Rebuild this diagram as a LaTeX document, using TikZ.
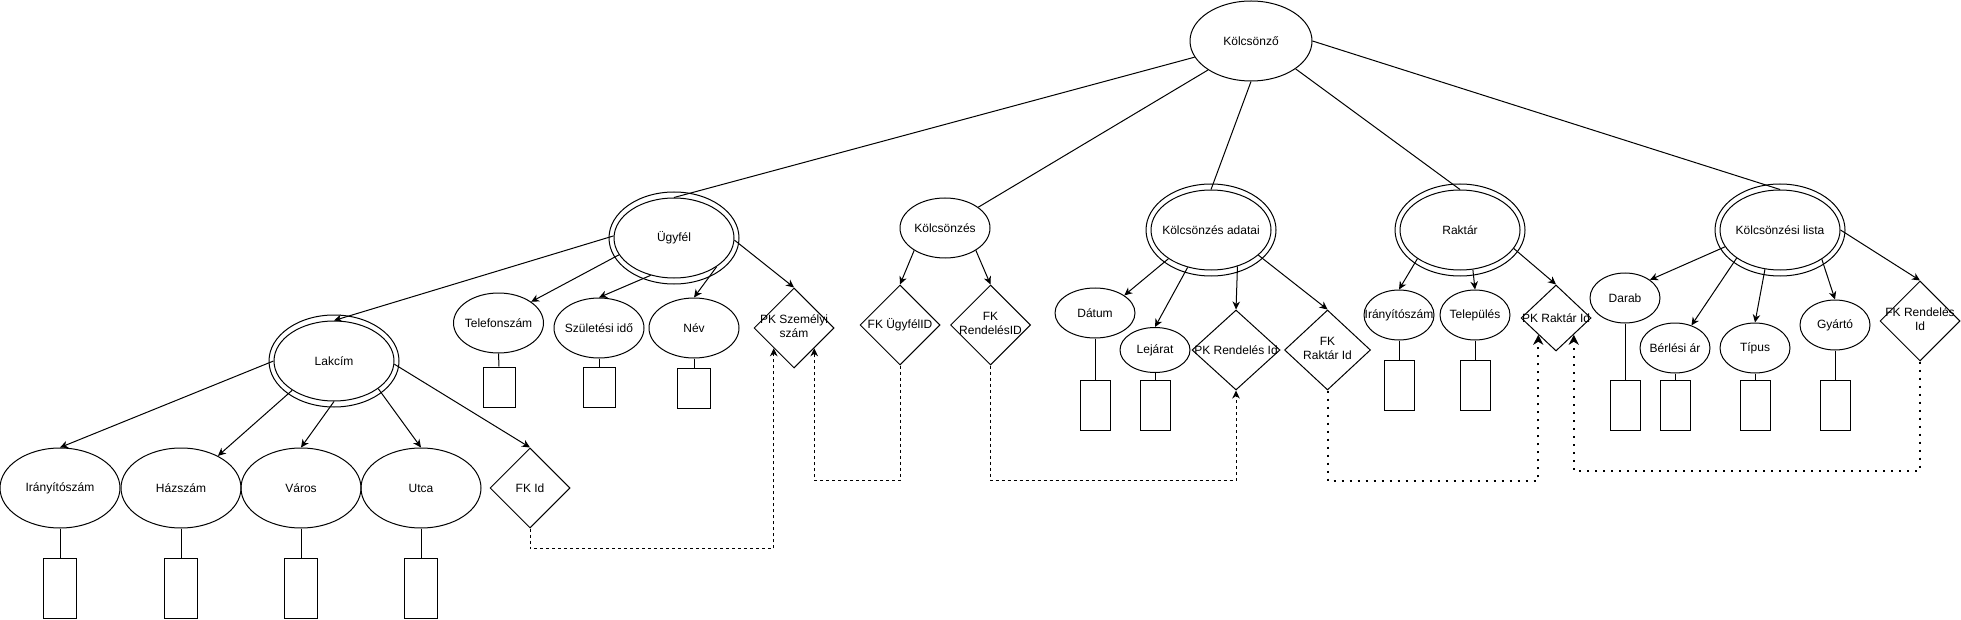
\documentclass[tikz,border=0pt]{standalone}
\usepackage{fontspec}
\setmainfont{Liberation Sans}
\usetikzlibrary{shapes.geometric,arrows.meta}
\newcommand\zt[1]{\makebox[0pt]{#1}}
\newcommand\ztt[2]{\makebox[0pt]{\begin{tabular}{@{}c@{}}#1\\#2\end{tabular}}}
\begin{document}
\begin{tikzpicture}[x=1pt,y=-1pt,line width=1pt,
  font=\fontsize{12}{14}\selectfont,
  ell/.style={ellipse,draw,inner sep=0pt},
  dbl/.style={ell,minimum width=130pt,minimum height=92pt},
  inn/.style={ell,minimum width=120pt,minimum height=80pt},
  dia/.style={diamond,draw,inner sep=0pt},
  box/.style={rectangle,draw,inner sep=0pt},
  arr/.style={-{Stealth[length=8pt,width=7.5pt,inset=2.5pt]}},
  fkd/.style={arr,dash pattern=on 3pt off 3pt},
  fkt/.style={-{Stealth[length=10pt,width=10pt,inset=3pt]},line width=2pt,dash pattern=on 2pt off 6pt}]
\useasboundingbox (0,0) rectangle (1961,620);

% root
\node[ell,minimum width=122pt,minimum height=80pt] (k) at (1251,41) {\zt{Kölcsönző}};

% double ellipses
\node[dbl] (ugyO) at (674,238) {};
\node[inn] (ugy) at (674,238) {\zt{Ügyfél}};
\node[dbl] (lakO) at (334,361) {};
\node[inn] (lak) at (334,361) {\zt{Lakcím}};
\node[dbl] (kadO) at (1211,230) {};
\node[inn] (kad) at (1211,230) {\zt{Kölcsönzés adatai}};
\node[dbl] (rakO) at (1460,230) {};
\node[inn] (rak) at (1460,230) {\zt{Raktár}};
\node[dbl] (klO) at (1780,230) {};
\node[inn] (kl) at (1780,230) {\zt{Kölcsönzési lista}};

% simple entity
\node[ell,minimum width=90pt,minimum height=60pt] (kz) at (945,228) {\zt{Kölcsönzés}};

% Lakcím attributes
\node[ell,minimum width=120pt,minimum height=80pt] (ir) at (60,488) {\zt{Irányítószám}};
\node[ell,minimum width=120pt,minimum height=80pt] (haz) at (181,488) {\zt{Házszám}};
\node[ell,minimum width=120pt,minimum height=80pt] (var) at (301,488) {\zt{Város}};
\node[ell,minimum width=120pt,minimum height=80pt] (utca) at (421,488) {\zt{Utca}};
\node[dia,minimum width=80pt,minimum height=80pt] (fkid) at (530,488) {\zt{FK Id}};
\node[box,minimum width=33pt,minimum height=60pt] (rir) at (60,588) {};
\node[box,minimum width=33pt,minimum height=60pt] (rhaz) at (181,588) {};
\node[box,minimum width=33pt,minimum height=60pt] (rvar) at (301,588) {};
\node[box,minimum width=33pt,minimum height=60pt] (rutca) at (421,588) {};

% Ügyfél attributes
\node[ell,minimum width=90pt,minimum height=60pt] (tel) at (498.5,323) {\zt{Telefonszám}};
\node[ell,minimum width=90pt,minimum height=60pt] (szul) at (599,328) {\zt{Születési idő}};
\node[ell,minimum width=90pt,minimum height=60pt] (nev) at (694,328) {\zt{Név}};
\node[dia,minimum width=80pt,minimum height=80pt] (pksz) at (794,328) {\ztt{PK Személyi}{szám}};
\node[box,minimum width=32pt,minimum height=40pt] (rtel) at (499,387) {};
\node[box,minimum width=32pt,minimum height=40pt] (rszul) at (599,387) {};
\node[box,minimum width=33pt,minimum height=40pt] (rnev) at (694,388) {};

% Kölcsönzés
\node[dia,minimum width=80pt,minimum height=80pt] (fku) at (900,325) {\zt{FK ÜgyfélID}};
\node[dia,minimum width=80pt,minimum height=80pt] (fkr) at (990.5,325) {\ztt{FK}{RendelésID}};

% Kölcsönzés adatai
\node[ell,minimum width=80pt,minimum height=50pt] (dat) at (1095,313) {\zt{Dátum}};
\node[ell,minimum width=70pt,minimum height=45pt] (lej) at (1155,350) {\zt{Lejárat}};
\node[dia,minimum width=88pt,minimum height=80pt] (pkr) at (1236,350) {\zt{PK Rendelés Id}};
\node[dia,minimum width=86pt,minimum height=80pt] (fkrk) at (1327.5,350) {\ztt{FK}{Raktár Id}};
\node[box,minimum width=30pt,minimum height=50pt] (rdat) at (1095,405) {};
\node[box,minimum width=30pt,minimum height=50pt] (rlej) at (1155,405) {};

% Raktár
\node[ell,minimum width=70pt,minimum height=50pt] (ir2) at (1399,315) {\zt{Irányítószám}};
\node[ell,minimum width=70pt,minimum height=50pt] (tel2) at (1475,315) {\zt{Település}};
\node[dia,minimum width=70pt,minimum height=66pt] (pkrk) at (1556,318) {\zt{PK Raktár Id}};
\node[box,minimum width=30pt,minimum height=50pt] (rir2) at (1399,385) {};
\node[box,minimum width=30pt,minimum height=50pt] (rtel2) at (1475,385) {};

% Kölcsönzési lista
\node[ell,minimum width=70pt,minimum height=50pt] (dar) at (1625,298) {\zt{Darab}};
\node[ell,minimum width=70pt,minimum height=50pt] (ber) at (1675,348) {\zt{Bérlési ár}};
\node[ell,minimum width=70pt,minimum height=50pt] (tip) at (1755,348) {\zt{Típus}};
\node[ell,minimum width=70pt,minimum height=50pt] (gyar) at (1835,325) {\zt{Gyártó}};
\node[dia,minimum width=80pt,minimum height=80pt] (fkrl) at (1920,321) {\ztt{FK Rendelés}{Id}};
\node[box,minimum width=30pt,minimum height=50pt] (rdar) at (1625,405) {};
\node[box,minimum width=30pt,minimum height=50pt] (rber) at (1675,405) {};
\node[box,minimum width=30pt,minimum height=50pt] (rtip) at (1755,405) {};
\node[box,minimum width=30pt,minimum height=50pt] (rgyar) at (1835,405) {};

% root lines
\draw (k.-164) -- (ugy.north);
\draw (k.-146) -- (kz.32);
\draw (k.south) -- (kad.north);
\draw (k.-32) -- (rak.north);
\draw (k.east) -- (kl.north);

% Ügyfél arrows
\draw[arr] (ugy.178) -- (lak.north);
\draw[arr] (ugy.-163) -- (tel.33);
\draw[arr] (ugy.-122) -- (szul.north);
\draw[arr] (ugy.-34) -- (nev.north);
\draw[arr] (ugy.-2) -- (pksz.north);

% Lakcím arrows
\draw[arr] (lak.west) -- (ir.north);
\draw[arr] (lak.-145) -- (haz.41);
\draw[arr] (lak.south) -- (var.north);
\draw[arr] (lak.-32) -- (utca.north);
\draw[arr] (lak.-3) -- (fkid.north);

% Kölcsönzés arrows
\draw[arr] (kz.-144) -- (fku.north);
\draw[arr] (kz.-36) -- (fkr.north);

% Kölcsönzés adatai arrows
\draw[arr] (kad.-146) -- (dat.31);
\draw[arr] (kad.-122) -- (lej.north);
\draw[arr] (kad.-54) -- (pkr.north);
\draw[arr] (kad.-28) -- (fkrk.north);

% Raktár arrows
\draw[arr] (rak.-146) -- (ir2.north);
\draw[arr] (rak.-72) -- (tel2.north);
\draw[arr] (rak.-19) -- (pkrk.north);

% Kölcsönzési lista arrows
\draw[arr] (kl.-163) -- (dar.36);
\draw[arr] (kl.-147) -- (ber.54);
\draw[arr] (kl.-111) -- (tip.north);
\draw[arr] (kl.-35) -- (gyar.north);
\draw[arr] (kl.east) -- (fkrl.north);

% attribute to type boxes
\foreach \a/\b in {ir/rir,haz/rhaz,var/rvar,utca/rutca,tel/rtel,szul/rszul,nev/rnev,dat/rdat,lej/rlej,ir2/rir2,tel2/rtel2,dar/rdar,ber/rber,tip/rtip,gyar/rgyar}
  \draw (\a.south) -- (\b.north);

% foreign keys
\draw[fkd] (fkid.south) -- ++(0,20) -| (pksz.south west);
\draw[fkd] (fku.south) -- ++(0,115) -| (pksz.south east);
\draw[fkd] (fkr.south) -- ++(0,115) -| (pkr.south);
\draw[fkt] (fkrk.south) -- ++(0,90) -| (pkrk.south west);
\draw[fkt] (fkrl.south) -- ++(0,109) -| (pkrk.south east);
\end{tikzpicture}
\end{document}
